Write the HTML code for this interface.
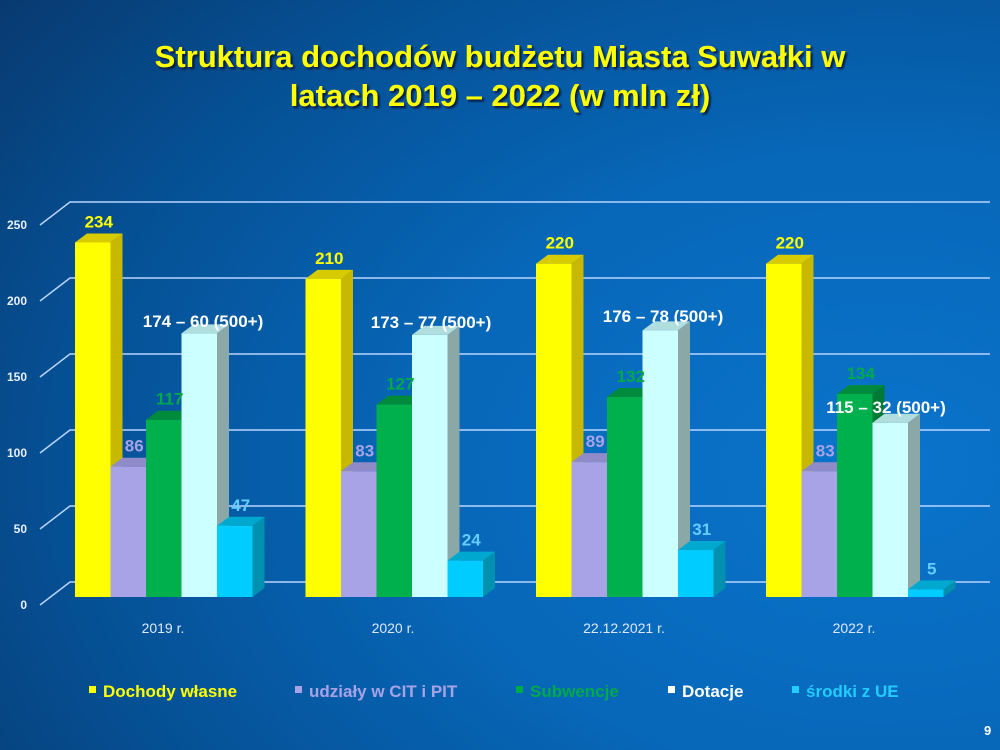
<!DOCTYPE html>
<html><head><meta charset="utf-8"><style>
html,body{margin:0;padding:0;width:1000px;height:750px;overflow:hidden}
body{background:radial-gradient(ellipse 130% 120% at 88% 62%,#0a74cc 0%,#0767b8 35%,#055196 62%,#083a70 85%,#0a2f5c 100%);font-family:"Liberation Sans",sans-serif}
</style></head><body>
<svg width="1000" height="750" xmlns="http://www.w3.org/2000/svg" style="position:absolute;left:0;top:0">
<defs><filter id="sh"><feDropShadow dx="2" dy="2" stdDeviation="1" flood-color="#001030" flood-opacity="0.9"/></filter></defs>
<g font-family="Liberation Sans, sans-serif" font-weight="bold" font-size="31" fill="#ffff00" text-anchor="middle" filter="url(#sh)">
<text x="500" y="67">Struktura dochodów  budżetu  Miasta Suwałki  w</text>
<text x="500" y="106">latach 2019 – 2022 (w mln zł)</text>
</g>
<g stroke="#b8d4ff" stroke-width="1.5" fill="none">
<path d="M40 605 L70 582 H990"/><path d="M40 529 L70 506 H990"/><path d="M40 453 L70 430 H990"/><path d="M40 377 L70 354 H990"/><path d="M40 301 L70 278 H990"/><path d="M40 225 L70 202 H990"/>
</g>
<g font-family="Liberation Sans, sans-serif" font-weight="bold" font-size="12" fill="#e8f0ff" text-anchor="end">
<text x="27" y="609">0</text><text x="27" y="533">50</text><text x="27" y="457">100</text><text x="27" y="381">150</text><text x="27" y="305">200</text><text x="27" y="229">250</text>
</g>
<g id="bars"></g>
<g font-family="Liberation Sans, sans-serif" font-size="14" fill="#dde8ff" text-anchor="middle">
<text x="163" y="633">2019 r.</text><text x="393" y="633">2020 r.</text><text x="624" y="633">22.12.2021 r.</text><text x="854" y="633">2022 r.</text>
</g>
<g font-family="Liberation Sans, sans-serif" font-weight="bold" font-size="17">
<rect x="89" y="686" width="7" height="7" fill="#ffff00"/><text x="103" y="697" fill="#ffff00">Dochody własne</text>
<rect x="295" y="686" width="7" height="7" fill="#a7a3e6"/><text x="309" y="697" fill="#a7a3e6">udziały w CIT i PIT</text>
<rect x="516" y="686" width="7" height="7" fill="#00aa4a"/><text x="530" y="697" fill="#00aa4a">Subwencje</text>
<rect x="668" y="686" width="7" height="7" fill="#ffffff"/><text x="682" y="697" fill="#ffffff">Dotacje</text>
<rect x="792" y="686" width="7" height="7" fill="#22ccff"/><text x="806" y="697" fill="#22ccff">środki z UE</text>
</g>
<text x="984" y="735" font-family="Liberation Sans, sans-serif" font-weight="bold" font-size="13" fill="#ffffff">9</text>
</svg>
<script>
var data=[[234,86,117,174,47],[210,83,127,173,24],[220,89,132,176,31],[220,83,134,115,5]];
var x0=[75,305.5,536,766];
var cols=[["#ffff00","#c8b800","#d8cc00"],["#a7a3e6","#7f7bb8","#8f8bc8"],["#00b04c","#007a36","#008a3c"],["#ccffff","#8aa8a8","#b0dede"],["#00ccff","#0090b0","#00a8d0"]];
var lc=["#ffff00","#a7a3e6","#00aa4a","#fff","#66ccff"];
var s="",k=1.515,b=597,w=35.5,dx=12,dy=9;
var dot=["174 – 60 (500+)","173 – 77 (500+)","176 – 78 (500+)","115 – 32 (500+)"];
var dotx=[203,431,663,886],doty=[327,328,322,413];
for(var g=0;g<4;g++)for(var i=0;i<5;i++){var x=x0[g]+w*i,v=data[g][i],t=b-v*k,c=cols[i];
s+='<polygon points="'+(x+w)+','+t+' '+(x+w+dx)+','+(t-dy)+' '+(x+w+dx)+','+(b-dy)+' '+(x+w)+','+b+'" fill="'+c[1]+'"/>';
s+='<polygon points="'+x+','+t+' '+(x+dx)+','+(t-dy)+' '+(x+w+dx)+','+(t-dy)+' '+(x+w)+','+t+'" fill="'+c[2]+'"/>';
s+='<rect x="'+x+'" y="'+t+'" width="'+w+'" height="'+(b-t)+'" fill="'+c[0]+'"/>';}
for(var g=0;g<4;g++)for(var i=0;i<5;i++){var x=x0[g]+w*i,v=data[g][i],t=b-v*k;
if(i==3)s+='<text x="'+dotx[g]+'" y="'+doty[g]+'" text-anchor="middle" font-family="Liberation Sans, sans-serif" font-weight="bold" font-size="17" fill="#fff">'+dot[g]+'</text>';
else s+='<text x="'+(x+w/2+6)+'" y="'+(t-15)+'" text-anchor="middle" font-family="Liberation Sans, sans-serif" font-weight="bold" font-size="17" fill="'+lc[i]+'">'+v+'</text>';}
document.getElementById("bars").innerHTML=s;
</script>
</body></html>
